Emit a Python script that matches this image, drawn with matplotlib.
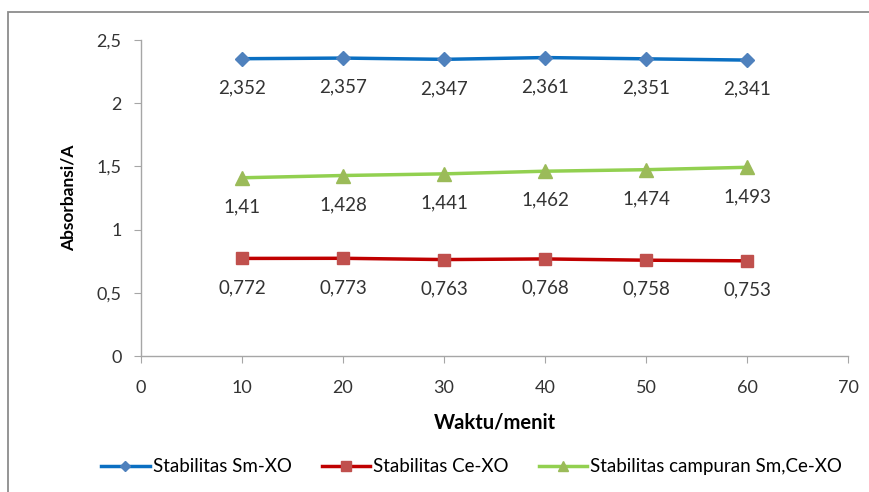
import matplotlib
matplotlib.use("Agg")
import matplotlib.pyplot as plt
from matplotlib.patches import Rectangle

plt.rcParams['font.family'] = ['Lato', 'DejaVu Sans']

waktu = [10, 20, 30, 40, 50, 60]
sm_xo = [2.352, 2.357, 2.347, 2.361, 2.351, 2.341]
ce_xo = [0.772, 0.773, 0.763, 0.768, 0.758, 0.753]
campuran = [1.41, 1.428, 1.441, 1.462, 1.474, 1.493]

series_names = ["Stabilitas Sm-XO", "Stabilitas Ce-XO", "Stabilitas campuran Sm,Ce-XO"]
x_ticks = [0, 10, 20, 30, 40, 50, 60, 70]
y_ticks = [0, 0.5, 1, 1.5, 2, 2.5]


def fmt(v):
    s = ("%g" % v)
    return s.replace(".", ",")


fig = plt.figure(figsize=(8.7, 4.92), dpi=100)
ax = fig.add_axes([0.162, 0.2764, 0.813, 0.6423])

# outer chart-area frame
fig.patches.append(Rectangle((8.5 / 870, -0.1), 1.2, 1 - 11.5 / 492 + 0.1,
                             transform=fig.transFigure, fill=False,
                             edgecolor="#8c8c8c", linewidth=1.3))

styles = [
    (sm_xo, "#0a6fc2", "#4f81bd", "D", 7),
    (ce_xo, "#c00000", "#c0504d", "s", 9),
    (campuran, "#92d050", "#9bbb59", "^", 10),
]

for (vals, lc, mc, mk, ms), name in zip(styles, series_names):
    ax.plot(waktu, vals, color=lc, linewidth=2.5, marker=mk, markersize=ms,
            markerfacecolor=mc, markeredgecolor=mc, label=name)
    for x, y in zip(waktu, vals):
        ax.annotate(fmt(y), (x, y), xytext=(0, -21), textcoords="offset points",
                    ha="center", va="center", fontsize=13.5, color="#333333")

ax.set_xlim(0, 70)
ax.set_ylim(0, 2.5)
ax.set_xticks(x_ticks)
ax.set_yticks(y_ticks)
ax.set_xticklabels([fmt(v) for v in x_ticks])
ax.set_yticklabels([fmt(v) for v in y_ticks])

for side in ["top", "right"]:
    ax.spines[side].set_visible(False)
for side in ["left", "bottom"]:
    ax.spines[side].set_color("#a6a6a6")
    ax.spines[side].set_linewidth(1.0)

ax.tick_params(axis="both", direction="out", length=5, color="#a6a6a6",
               labelsize=13, labelcolor="#333333")
ax.tick_params(axis="x", pad=12)
ax.tick_params(axis="y", pad=9)

ax.set_xlabel("Waktu/menit", fontsize=14.5, fontweight="bold", labelpad=12)
ax.set_ylabel("Absorbansi/A", fontsize=12.5, fontweight="bold", labelpad=14)

fig.legend(loc="center", bbox_to_anchor=(0.542, 0.051), ncol=3, frameon=False,
           handlelength=2.6, columnspacing=1.6, handletextpad=0.15,
           markerscale=0.75, prop={'family': ['Lato', 'DejaVu Sans'], 'size': 13.5})

fig.savefig("out.png", dpi=100)
